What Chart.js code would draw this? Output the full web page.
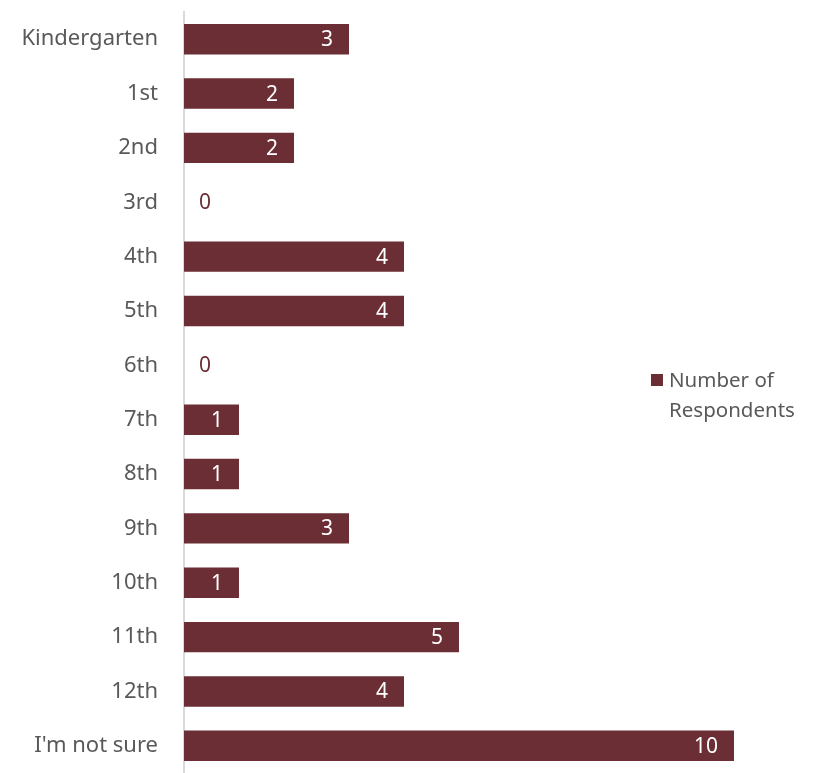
<!DOCTYPE html>
<html>
<head>
<meta charset="utf-8">
<script src="https://cdn.jsdelivr.net/npm/chart.js@4.4.1/dist/chart.umd.min.js"></script>
<style>
  html, body { margin: 0; padding: 0; background: #fff; }
  #wrap { position: relative; width: 818px; height: 773px; overflow: hidden; }
  canvas { display: block; }
  #legend { position: absolute; left: 651px; top: 364px; font-family: "Noto Sans", sans-serif;
            font-size: 20.5px; color: #595959; line-height: 30px; }
  #legend .box { display: inline-block; width: 12px; height: 12px; background: #6B2E35;
                 margin-right: 6px; vertical-align: 1px; }
  #legend .l2 { padding-left: 18px; }
</style>
</head>
<body>
<div id="wrap">
  <canvas id="chart" width="818" height="773"></canvas>
  <div id="legend"><div><span class="box"></span>Number of</div><div class="l2">Respondents</div></div>
</div>
<script>
// categories and values
var grades = ["Kindergarten", "1st", "2nd", "3rd", "4th", "5th", "6th", "7th", "8th", "9th", "10th", "11th", "12th", "I'm not sure"];
var respondents = [3, 2, 2, 0, 4, 4, 0, 1, 1, 3, 1, 5, 4, 10];

var barColor = "#6B2E35";

// value labels: white inside the bar end, maroon next to the axis for zero
var valueLabels = {
    id: "valueLabels",
    afterDatasetsDraw: function(chart) {
        var ctx = chart.ctx;
        var meta = chart.getDatasetMeta(0);
        ctx.save();
        ctx.font = "21px 'Noto Sans', sans-serif";
        ctx.textBaseline = "middle";
        meta.data.forEach(function(bar, i) {
            var v = respondents[i];
            if (v > 0) {
                ctx.fillStyle = "#ffffff";
                ctx.textAlign = "right";
                ctx.fillText(String(v), bar.x - 16, bar.y + 1);
            } else {
                ctx.fillStyle = barColor;
                ctx.textAlign = "center";
                ctx.fillText(String(v), bar.x + 21, bar.y + 1);
            }
        });
        ctx.restore();
    }
};

var chart = new Chart(document.getElementById("chart"), {
    type: "bar",
    data: {
        labels: grades,
        datasets: [{
            label: "Number of Respondents",
            data: respondents,
            backgroundColor: barColor,
            borderWidth: 0,
            categoryPercentage: 1,
            barPercentage: 0.56
        }]
    },
    options: {
        indexAxis: "y",
        responsive: false,
        animation: false,
        layout: { padding: { left: 0, right: 29, top: 12, bottom: -2 } },
        plugins: {
            legend: { display: false },
            tooltip: { enabled: false }
        },
        scales: {
            x: {
                display: false,
                min: 0,
                max: 11
            },
            y: {
                afterFit: function(scale) {
                    scale.width = 184;
                    scale.paddingTop = 0;
                    scale.paddingBottom = 0;
                },
                grid: { display: false, drawTicks: false },
                border: { display: true, color: "#d9d9d9", width: 2 },
                ticks: {
                    color: "#595959",
                    padding: 26,
                    font: { family: "'Noto Sans', sans-serif", size: 22 }
                }
            }
        }
    },
    plugins: [valueLabels]
});
</script>
</body>
</html>
